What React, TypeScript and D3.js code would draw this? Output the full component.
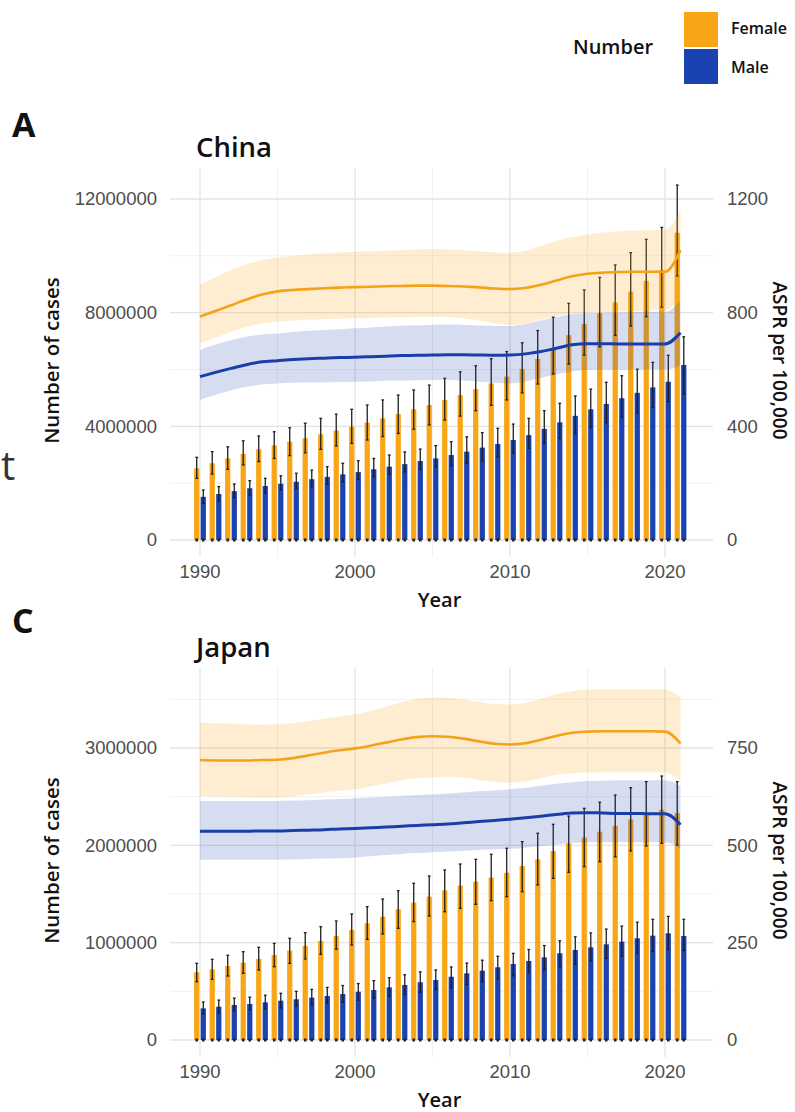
import React from 'react';
import * as d3 from 'd3';

const years = [1990,1991,1992,1993,1994,1995,1996,1997,1998,1999,2000,2001,2002,2003,2004,2005,2006,2007,2008,2009,2010,2011,2012,2013,2014,2015,2016,2017,2018,2019,2020,2021];
const sexes = ['Female', 'Male'];

// China — number of cases (millions)
const chinaFemaleCases = [2.52,2.70,2.87,3.03,3.19,3.33,3.46,3.58,3.72,3.85,3.99,4.13,4.28,4.43,4.60,4.75,4.93,5.10,5.31,5.51,5.75,6.02,6.37,6.70,7.21,7.60,7.98,8.36,8.74,9.12,9.50,10.81];
const chinaFemaleUpper = [2.91,3.11,3.28,3.49,3.66,3.81,3.95,4.11,4.28,4.43,4.60,4.75,4.93,5.10,5.28,5.45,5.69,5.92,6.13,6.38,6.63,6.94,7.37,7.84,8.33,8.80,9.24,9.68,10.11,10.58,11.00,12.49];
const chinaFemaleLower = [2.17,2.32,2.49,2.64,2.76,2.87,2.97,3.07,3.19,3.31,3.40,3.52,3.64,3.75,3.90,4.05,4.22,4.36,4.55,4.74,4.93,5.18,5.49,5.84,6.19,6.51,6.80,7.20,7.53,7.86,8.19,9.29];
const chinaMaleCases = [1.52,1.62,1.72,1.82,1.90,1.98,2.05,2.14,2.22,2.31,2.39,2.49,2.58,2.67,2.78,2.87,2.99,3.11,3.25,3.38,3.52,3.69,3.91,4.14,4.37,4.60,4.79,4.99,5.18,5.37,5.57,6.16];
const chinaMaleUpper = [1.76,1.88,1.97,2.09,2.17,2.26,2.35,2.46,2.58,2.70,2.79,2.87,2.99,3.10,3.20,3.32,3.46,3.63,3.78,3.93,4.08,4.28,4.55,4.81,5.07,5.31,5.55,5.78,6.01,6.25,6.50,7.15];
const chinaMaleLower = [1.29,1.38,1.49,1.58,1.66,1.76,1.82,1.88,1.97,2.05,2.14,2.23,2.32,2.40,2.50,2.58,2.62,2.70,2.79,2.93,3.07,3.23,3.40,3.58,3.75,3.97,4.13,4.32,4.48,4.67,4.87,5.14];
// China — ASPR per 100,000
const chinaFemaleAspr = [786,806,826,846,864,875,880,883,886,888,890,891,893,894,895,895,894,892,889,885,883,887,898,913,928,937,941,943,944,944,944,1020];
const chinaFemaleAsprUpper = [897,925,950,970,985,993,1000,1005,1009,1012,1014,1016,1018,1020,1022,1023,1022,1020,1016,1012,1011,1018,1035,1052,1066,1075,1082,1086,1088,1090,1091,1160];
const chinaFemaleAsprLower = [692,712,733,750,762,768,772,775,777,779,780,781,783,784,785,786,785,780,772,763,757,762,775,788,797,800,802,804,806,808,810,850];
const chinaMaleAspr = [575,590,604,617,627,631,635,638,640,642,643,645,647,649,650,651,652,652,651,650,651,655,663,675,687,691,691,690,690,690,690,729];
const chinaMaleAsprUpper = [669,688,703,715,723,727,732,736,739,742,745,748,751,754,756,757,758,757,755,753,753,760,772,785,795,798,800,801,802,803,803,844];
const chinaMaleAsprLower = [493,511,527,539,547,551,553,554,555,556,557,558,560,561,562,563,563,561,557,553,551,558,570,583,594,598,599,599,600,600,600,616];

// Japan — number of cases (millions)
const japanFemaleCases = [0.695,0.726,0.760,0.794,0.832,0.873,0.918,0.966,1.017,1.069,1.130,1.199,1.267,1.343,1.411,1.473,1.538,1.586,1.627,1.668,1.719,1.788,1.856,1.942,2.021,2.079,2.140,2.202,2.267,2.325,2.366,2.330];
const japanFemaleUpper = [0.788,0.829,0.870,0.907,0.952,0.993,1.045,1.103,1.164,1.223,1.295,1.370,1.449,1.534,1.610,1.685,1.747,1.808,1.856,1.908,1.970,2.038,2.124,2.216,2.301,2.380,2.442,2.517,2.592,2.654,2.712,2.654];
const japanFemaleLower = [0.599,0.623,0.658,0.685,0.719,0.753,0.788,0.832,0.880,0.932,0.976,1.034,1.089,1.147,1.216,1.274,1.318,1.353,1.394,1.431,1.473,1.524,1.593,1.661,1.723,1.781,1.832,1.883,1.942,1.993,2.021,2.003];
const japanMaleCases = [0.325,0.342,0.360,0.370,0.387,0.404,0.418,0.435,0.452,0.473,0.496,0.514,0.541,0.565,0.593,0.616,0.650,0.685,0.712,0.747,0.781,0.812,0.849,0.891,0.925,0.952,0.983,1.010,1.045,1.072,1.096,1.069];
const japanMaleUpper = [0.39,0.41,0.43,0.44,0.46,0.48,0.50,0.52,0.54,0.56,0.58,0.61,0.64,0.67,0.70,0.72,0.75,0.79,0.82,0.86,0.89,0.93,0.97,1.02,1.06,1.10,1.14,1.17,1.21,1.24,1.27,1.24];
const japanMaleLower = [0.27,0.28,0.30,0.31,0.32,0.33,0.35,0.36,0.38,0.39,0.41,0.43,0.45,0.47,0.49,0.52,0.54,0.57,0.60,0.63,0.66,0.69,0.72,0.75,0.78,0.81,0.84,0.86,0.89,0.91,0.93,0.92];
// Japan — ASPR per 100,000
const japanFemaleAspr = [719,718,718,718,719,720,724,731,738,744,749,756,764,772,778,780,779,774,767,761,759,762,771,781,789,792,793,793,793,793,792,762];
const japanFemaleAsprUpper = [815,814,812,811,810,811,814,819,825,831,836,845,856,867,876,880,879,874,868,863,862,866,876,888,896,900,901,901,901,901,900,879];
const japanFemaleAsprLower = [627,626,625,624,623,623,626,631,636,640,644,651,659,667,672,674,676,674,668,663,661,664,672,681,686,687,688,688,688,688,687,665];
const japanMaleAspr = [536,536,536,536,537,537,538,539,540,542,543,545,547,549,551,553,555,558,561,564,567,571,575,579,583,584,583,582,582,581,581,553];
const japanMaleAsprUpper = [614,614,614,614,614,614,615,616,618,619,621,623,625,627,629,631,633,636,639,641,644,648,653,658,662,665,666,667,667,667,667,653];
const japanMaleAsprLower = [463,463,463,463,463,463,464,465,466,467,469,472,475,478,480,482,484,486,488,490,491,494,498,502,506,508,508,508,508,508,508,491];

// Axis ticks
const xMajorTicks = [1990, 2000, 2010, 2020];
const xMinorTicks = [1995, 2005, 2015];
const chinaLeftTicks = [0, 4000000, 8000000, 12000000];
const chinaLeftMinor = [2000000, 6000000, 10000000];
const chinaRightTicks = [0, 400, 800, 1200];
const japanLeftTicks = [0, 1000000, 2000000, 3000000];
const japanLeftMinor = [500000, 1500000, 2500000, 3500000];
const japanRightTicks = [0, 250, 500, 750];

const COL = { Female: '#F8A616', Male: '#1A42B0' };
const LINE = { Female: '#F4A21A', Male: '#1B3DA8' };
const TITLE_FONT = "'Open Sans', 'DejaVu Sans', sans-serif";
const TICK_FONT = "'Liberation Sans', Arial, sans-serif";

type PanelProps = {
  letter: string; title: string; top: number; topPx: number;
  femaleCases: number[]; femaleUpper: number[]; femaleLower: number[];
  maleCases: number[]; maleUpper: number[]; maleLower: number[];
  femaleAspr: number[]; femaleAsprU: number[]; femaleAsprL: number[];
  maleAspr: number[]; maleAsprU: number[]; maleAsprL: number[];
  leftTicks: number[]; leftMinor: number[]; rightTicks: number[];
};

function Panel(p: PanelProps) {
  const t = p.top;
  const plotL = 170, plotR = 713;
  const plotT = 168 + t, plotB = 557 + t;
  const zeroY = 540 + t;
  const leftMaxTick = p.leftTicks[p.leftTicks.length - 1];
  const rightMaxTick = p.rightTicks[p.rightTicks.length - 1];

  const x = d3.scaleLinear().domain([1990, 2020]).range([200, 665]);
  const sub = d3.scaleBand<string>().domain(sexes).range([-0.38, 0.38]).paddingInner(0.2);
  const yL = d3.scaleLinear().domain([0, leftMaxTick]).range([zeroY, p.topPx]);
  const yR = d3.scaleLinear().domain([0, rightMaxTick]).range([zeroY, p.topPx]);
  const bw = x(1990 + sub.bandwidth()) - x(1990);

  const series = [
    { sex: 'Female', v: p.femaleCases, u: p.femaleUpper, l: p.femaleLower, a: p.femaleAspr, au: p.femaleAsprU, al: p.femaleAsprL },
    { sex: 'Male', v: p.maleCases, u: p.maleUpper, l: p.maleLower, a: p.maleAspr, au: p.maleAsprU, al: p.maleAsprL },
  ];

  const area = d3.area<number>().x((_, i) => x(years[i])).curve(d3.curveMonotoneX);
  const line = d3.line<number>().x((_, i) => x(years[i])).y(d => yR(d)).curve(d3.curveMonotoneX);

  const xLabelY = zeroY + 45;
  const midX = (plotL + plotR) / 2;
  const midY = (plotT + plotB) / 2 - 2;

  return (
    <g>
      <text x={12} y={p.letter === 'A' ? 137 : 633} fontFamily={TITLE_FONT} fontWeight={700} fontSize={34} fill="#111">{p.letter}</text>
      <text x={196} y={157 + t} fontFamily={TITLE_FONT} fontWeight={600} fontSize={27.5} fill="#111">{p.title}</text>
      {xMinorTicks.map(v => <line key={'xm' + v} x1={x(v)} x2={x(v)} y1={plotT} y2={plotB} stroke="#f1f1f1" strokeWidth={1} />)}
      {p.leftMinor.map(v => <line key={'ym' + v} x1={plotL} x2={plotR} y1={yL(v)} y2={yL(v)} stroke="#f1f1f1" strokeWidth={1} />)}
      {xMajorTicks.map(v => <line key={'xM' + v} x1={x(v)} x2={x(v)} y1={plotT} y2={plotB} stroke="#e3e3e3" strokeWidth={1.3} />)}
      {p.leftTicks.map(v => <line key={'yM' + v} x1={plotL} x2={plotR} y1={yL(v)} y2={yL(v)} stroke="#e3e3e3" strokeWidth={1.3} />)}
      {series.map(s => years.map((yr, i) => (
        <rect key={s.sex + yr} x={x(yr + (sub(s.sex) as number))} width={bw}
          y={yL(s.v[i] * 1e6)} height={zeroY - yL(s.v[i] * 1e6)} fill={(COL as any)[s.sex]} />
      )))}
      {series.map(s => years.map(yr => {
        const cx = x(yr + (sub(s.sex) as number) + sub.bandwidth() / 2);
        return <rect key={'b' + s.sex + yr} x={cx - 1.3} y={zeroY - 1.5} width={2.6} height={3} fill="#222" />;
      }))}
      {series.map(s => years.map((yr, i) => {
        const cx = x(yr + (sub(s.sex) as number) + sub.bandwidth() / 2);
        const y1 = yL(s.u[i] * 1e6), y2 = yL(s.l[i] * 1e6);
        return (
          <g key={'e' + s.sex + yr} stroke="#1e1e1e" strokeWidth={1.3}>
            <line x1={cx} x2={cx} y1={y1} y2={y2} />
            <line x1={cx - 1.4} x2={cx + 1.4} y1={y1} y2={y1} />
            <line x1={cx - 1.4} x2={cx + 1.4} y1={y2} y2={y2} />
          </g>
        );
      }))}
      {series.map(s => (
        <path key={'r' + s.sex}
          d={area.y0((_, i) => yR(s.al[i])).y1((d) => yR(d))(s.au) as string}
          fill={(COL as any)[s.sex]} fillOpacity={s.sex === 'Female' ? 0.2 : 0.18} />
      ))}
      {series.map(s => (
        <path key={'l' + s.sex} d={line(s.a) as string} fill="none"
          stroke={(LINE as any)[s.sex]} strokeWidth={s.sex === 'Female' ? 2.6 : 3} />
      ))}
      {p.leftTicks.map(v => (
        <text key={'lt' + v} x={157} y={yL(v)} dy="0.35em" textAnchor="end" fontFamily={TICK_FONT} fontSize={18.5} fill="#4d4d4d">{d3.format('d')(v)}</text>
      ))}
      {p.rightTicks.map(v => (
        <text key={'rt' + v} x={727} y={yR(v)} dy="0.35em" textAnchor="start" fontFamily={TICK_FONT} fontSize={18.5} fill="#4d4d4d">{v}</text>
      ))}
      {xMajorTicks.map(v => (
        <text key={'xt' + v} x={x(v)} y={xLabelY - 7} textAnchor="middle" fontFamily={TICK_FONT} fontSize={18.5} fill="#4d4d4d">{v}</text>
      ))}
      <text x={midX - 2} y={xLabelY + 22} textAnchor="middle" fontFamily={TITLE_FONT} fontWeight={600} fontSize={20} fill="#111">Year</text>
      <text transform={`translate(52,${midY}) rotate(-90)`} textAnchor="middle" dy="0.35em" fontFamily={TITLE_FONT} fontWeight={600} fontSize={20.5} fill="#111">Number of cases</text>
      <text transform={`translate(780,${midY}) rotate(90)`} textAnchor="middle" dy="0.35em" fontFamily={TITLE_FONT} fontWeight={600} fontSize={19} fill="#111">ASPR per 100,000</text>
    </g>
  );
}

export default function App() {
  return (
    <svg width={795} height={1112} viewBox="0 0 795 1112" style={{ position: 'absolute', left: 0, top: 0, background: '#fff' }}>
      <rect width={795} height={1112} fill="#fff" />
      <text x={573} y={54} fontFamily={TITLE_FONT} fontWeight={600} fontSize={20} fill="#111">Number</text>
      <rect x={684} y={12} width={34} height={35} fill={COL.Female} />
      <rect x={684} y={49} width={34} height={35} fill={COL.Male} />
      <text x={731} y={34} fontFamily={TITLE_FONT} fontWeight={600} fontSize={16} fill="#111">Female</text>
      <text x={731} y={73} fontFamily={TITLE_FONT} fontWeight={600} fontSize={16} fill="#111">Male</text>
      <text x={1} y={480} fontFamily={TITLE_FONT} fontSize={40} fill="#333">t</text>
      <Panel letter="A" title="China" top={0} topPx={199}
        femaleCases={chinaFemaleCases} femaleUpper={chinaFemaleUpper} femaleLower={chinaFemaleLower}
        maleCases={chinaMaleCases} maleUpper={chinaMaleUpper} maleLower={chinaMaleLower}
        femaleAspr={chinaFemaleAspr} femaleAsprU={chinaFemaleAsprUpper} femaleAsprL={chinaFemaleAsprLower}
        maleAspr={chinaMaleAspr} maleAsprU={chinaMaleAsprUpper} maleAsprL={chinaMaleAsprLower}
        leftTicks={chinaLeftTicks} leftMinor={chinaLeftMinor} rightTicks={chinaRightTicks} />
      <Panel letter="C" title="Japan" top={500} topPx={748}
        femaleCases={japanFemaleCases} femaleUpper={japanFemaleUpper} femaleLower={japanFemaleLower}
        maleCases={japanMaleCases} maleUpper={japanMaleUpper} maleLower={japanMaleLower}
        femaleAspr={japanFemaleAspr} femaleAsprU={japanFemaleAsprUpper} femaleAsprL={japanFemaleAsprLower}
        maleAspr={japanMaleAspr} maleAsprU={japanMaleAsprUpper} maleAsprL={japanMaleAsprLower}
        leftTicks={japanLeftTicks} leftMinor={japanLeftMinor} rightTicks={japanRightTicks} />
    </svg>
  );
}
